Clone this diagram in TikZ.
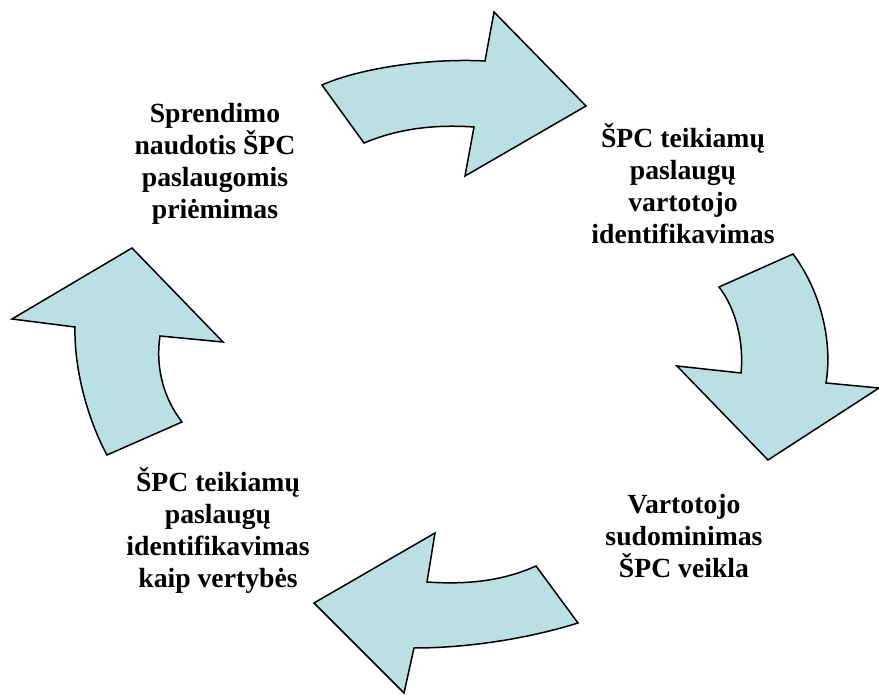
\documentclass[tikz,border=0pt]{standalone}
\usepackage{fontspec}
\setmainfont{Liberation Serif}
\usepackage{tikz}
\usepackage{xcolor}
\definecolor{arrowfill}{RGB}{187,224,227}
\tikzset{
  cyclearrow/.style={draw=black, fill=arrowfill, line width=0.75pt, line join=miter},
  steplabel/.style={align=center, font=\bfseries\fontsize{13.85}{16}\selectfont, inner sep=0pt}
}

\begin{document}
\begin{tikzpicture}[x=0.5pt, y=-0.5pt]
\useasboundingbox (0,0) rectangle (879,695);
\draw[cyclearrow] (322,85) .. controls (360,68) and (430,58) .. (485,61) -- (494,12) -- (586,106) -- (465,176) -- (474,127) .. controls (430,124) and (395,130) .. (364,143) -- cycle;
\draw[cyclearrow] (719,287) -- (793,254) .. controls (820,290) and (833,340) .. (826,383) -- (879,388) -- (768,460) -- (677,366) -- (741,373) .. controls (744,345) and (737,310) .. (719,287) -- cycle;
\draw[cyclearrow] (536,566) -- (578,623) .. controls (530,638) and (470,648) .. (414,648) -- (404,693) -- (314,603) -- (435,533) -- (427,582) .. controls (470,585) and (505,580) .. (536,566) -- cycle;
\draw[cyclearrow] (132,248) -- (223,342) -- (160,336) .. controls (155,370) and (165,400) .. (182,422) -- (107,455) .. controls (88,420) and (74,370) .. (75,327) -- (12,319) -- cycle;
\node[steplabel] (sprendimas) at (215,164) {Sprendimo\\naudotis ŠPC\\paslaugomis\\priėmimas};
\node[steplabel] (vartotojas) at (683,184) {ŠPC teikiamų\\paslaugų\\vartotojo\\identifikavimas};
\node[steplabel] (sudominimas) at (684,536) {Vartotojo\\sudominimas\\ŠPC veikla};
\node[steplabel] (vertybes) at (218,530) {ŠPC teikiamų\\paslaugų\\identifikavimas\\kaip vertybės};
\end{tikzpicture}
\end{document}
